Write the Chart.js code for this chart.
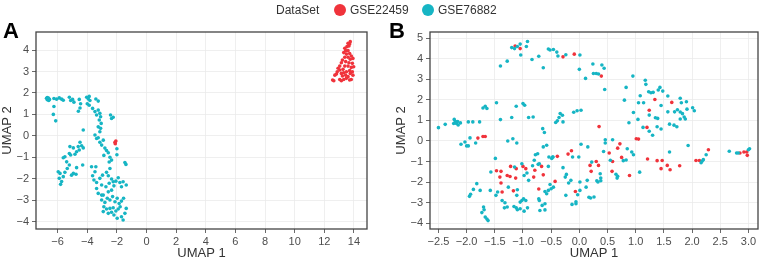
<!DOCTYPE html>
<html><head><meta charset="utf-8">
<script src="https://cdn.jsdelivr.net/npm/chart.js@4/dist/chart.umd.min.js"></script>
<style>
html,body{margin:0;padding:0;background:#fff;}
body{width:761px;height:261px;position:relative;overflow:hidden;font-family:"Liberation Sans",Arial,sans-serif;color:#333;}
#ca{position:absolute;left:0;top:0;}
#cb{position:absolute;left:380px;top:0;}
.lab{position:absolute;font-weight:bold;font-size:22px;color:#000;}
.leg{position:absolute;top:3px;font-size:12px;color:#333;line-height:15px;}
.dot{position:absolute;width:12px;height:12px;border-radius:50%;top:4px;}
</style></head><body>
<canvas id="ca" width="380" height="261"></canvas>
<canvas id="cb" width="381" height="261"></canvas>
<div class="lab" style="left:3px;top:18px;">A</div>
<div class="lab" style="left:389px;top:18px;">B</div>
<div class="leg" style="left:276px;">DataSet</div>
<div class="dot" style="left:334px;background:#F0333B;"></div>
<div class="leg" style="left:350px;">GSE22459</div>
<div class="dot" style="left:422px;background:#16B5C4;"></div>
<div class="leg" style="left:438px;">GSE76882</div>
<script>
const seriesNames = ["GSE22459", "GSE76882"];
const xTicksA = [-6,-4,-2,0,2,4,6,8,10,12,14];
const yTicksA = [-4,-3,-2,-1,0,1,2,3,4];
const xTicksB = [-2.5,-2.0,-1.5,-1.0,-0.5,0.0,0.5,1.0,1.5,2.0,2.5,3.0];
const yTicksB = [-4,-3,-2,-1,0,1,2,3,4,5];

const panelA_GSE22459 = [
[-2.13,-0.3],[-2.07,-0.24],[-2.11,-0.37],
[13.75,4.39],[13.71,4.28],[13.66,4.19],[13.6,4.31],[13.53,4.16],[13.38,4.08],[13.44,3.97],[13.6,3.97],
[13.31,3.88],[13.49,3.81],[13.71,3.84],[13.82,3.72],[13.93,3.61],[13.75,3.57],[13.6,3.66],[13.38,3.66],
[13.22,3.53],[13.15,3.41],[13.44,3.46],[13.66,3.41],[13.89,3.38],[13.98,3.22],[13.82,3.19],[13.6,3.25],
[13.38,3.25],[13.04,3.25],[12.93,3.15],[12.87,2.99],[13.04,3.07],[13.26,3.1],[13.31,2.94],[13.49,2.99],
[13.71,3.04],[13.89,2.99],[12.71,2.83],[12.82,2.88],[13.15,2.91],[13.22,2.79],[13.44,2.83],[13.6,2.76],
[13.75,2.91],[13.93,2.83],[12.56,2.6],[12.64,2.57],[13.04,2.63],[13.15,2.57],[13.31,2.63],[13.49,2.68],
[13.71,2.6],[13.82,2.63]
];
const panelA_GSE76882 = [
[-6.75,1.75],[-6.7,1.68],[-6.65,1.72],[-6.6,1.65],[-6.55,1.7],[-6.7,1.78],[-6.62,1.76],
[-6.25,1.74],[-6.07,1.71],[-5.89,1.77],[-5.73,1.71],[-5.62,1.66],
[-6.25,1.37],[-6.29,1.0],[-6.13,0.7],
[-5.21,1.8],[-5.12,1.65],[-4.99,1.7],[-4.9,1.57],
[-4.54,1.7],[-4.45,1.5],[-4.49,1.3],[-4.6,1.15],
[-4.04,1.8],[-3.93,1.72],[-3.87,1.84],[-3.82,1.65],[-4.0,1.5],[-3.87,1.43],
[-3.42,1.72],[-3.26,1.62],
[-3.64,1.28],[-3.48,1.13],[-3.37,0.97],[-3.26,1.2],[-3.15,1.05],[-3.1,0.89],[-3.19,0.74],[-3.06,0.58],
[-3.26,0.42],[-3.1,0.35],[-3.15,0.19],
[-2.43,0.97],[-2.36,0.81],[-2.25,0.87],
[-4.27,0.27],
[-3.48,0.04],[-3.37,-0.12],[-3.26,-0.09],
[-3.15,-0.3],[-3.03,-0.43],[-2.92,-0.2],
[-2.81,-0.57],[-2.7,-0.68],[-2.58,-0.79],[-2.88,-0.91],
[-2.47,-1.0],[-2.36,-1.13],[-2.52,-1.22],
[-2.0,-0.6],[-2.0,-0.88],
[-1.46,-1.24],[-1.39,-1.33],
[-4.49,-0.3],[-4.38,-0.46],[-4.61,-0.5],[-4.27,-0.56],[-4.54,-0.66],[-4.72,-0.74],[-4.83,-0.86],
[-4.94,-0.56],[-5.17,-0.5],[-5.21,-0.82],[-5.12,-0.89],[-5.51,-0.97],[-5.62,-1.02],[-5.39,-1.21],
[-5.21,-1.36],[-5.35,-1.52],[-5.51,-1.7],[-5.62,-1.9],[-5.84,-1.75],[-5.89,-1.98],[-5.73,-2.13],
[-5.8,-2.26],[-5.96,-1.67],[-4.94,-1.75],[-4.76,-1.79],[-5.06,-1.83],[-4.72,-1.48],[-4.31,-1.36],
[-3.71,-1.44],[-3.42,-1.44],[-3.48,-1.67],[-3.64,-1.86],[-3.55,-2.06],[-3.37,-2.17],[-3.15,-1.98],
[-2.97,-1.83],[-2.7,-1.7],[-2.47,-1.52],[-2.58,-1.86],[-2.36,-2.01],[-2.25,-2.14],[-2.52,-2.21],
[-2.74,-2.37],[-3.03,-2.29],[-3.37,-2.45],[-3.26,-2.68],[-2.92,-2.76],[-2.58,-2.61],[-2.36,-2.53],
[-2.2,-2.33],[-2.07,-2.11],[-1.91,-1.95],[-1.8,-2.17],[-1.69,-2.37],[-1.58,-2.14],[-1.37,-2.29],
[-3.03,-2.99],[-2.81,-3.1],[-2.65,-2.91],[-2.47,-2.99],[-2.29,-2.83],[-2.13,-3.07],[-1.98,-2.91],
[-1.85,-3.15],[-1.69,-3.04],[-2.88,-3.3],[-2.7,-3.41],[-2.47,-3.38],[-2.25,-3.35],[-2.07,-3.5],
[-1.91,-3.41],[-1.78,-3.3],[-2.36,-3.56],[-2.2,-3.69],[-1.98,-3.84],[-1.69,-3.77],[-1.58,-3.92],
[-1.46,-3.61],[-1.37,-3.38],[-1.55,-2.91],[-2.92,-3.53],[-2.58,-3.61],[-3.03,-2.76]
];
const panelB_GSE22459 = [
[-1.14,4.63],[-1.05,4.5],[-0.29,4.1],[-0.09,4.23],[0.39,3.16],[1.34,2.02],[1.64,1.88],[1.24,1.5],
[0.35,0.7],[1.2,0.66],[-1.8,0.14],[-1.71,0.22],[-1.67,0.22],
[-1.47,-1.45],[-1.39,-1.48],[-1.41,-1.76],[-1.39,-2.05],[-1.37,-2.49],[-1.22,-1.24],[-1.12,-1.35],
[-1.28,-1.68],[-1.23,-1.73],[-1.13,-1.81],[-1.17,-2.43],[-1.0,-1.24],[-0.95,-1.35],[-0.79,-1.43],
[-0.81,-1.76],[-0.64,-1.65],[-0.72,-2.34],[-0.67,-1.24],[-0.43,-1.97],[-0.39,-0.75],[-0.2,-0.64],
[-0.14,-0.48],[-0.07,-2.46],[0.21,-1.48],[0.19,-1.19],
[1.01,0.11],[1.05,0.09],[0.72,-0.14],[0.68,-0.35],[0.53,-0.59],[0.75,-0.8],[0.59,-1.0],[0.3,-1.0],
[0.34,-1.19],[0.58,-1.48],[0.89,-1.68],[1.21,-0.88],[1.38,-0.96],[1.47,-0.95],[1.45,-1.35],[1.56,-1.19],
[1.61,-1.4],[1.78,-1.21],[2.07,-0.95],[2.13,-0.95],[2.29,-0.43],[2.85,-0.59],[2.92,-0.54],[2.98,-0.7],[2.97,-0.54]
];
const panelB_GSE76882 = [
[-1.1,4.6],[-1.15,4.5],[-1.05,4.72],[-1.2,4.55],[-0.92,4.85],[-0.94,4.6],[-1.04,4.19],[-1.28,3.89],
[-1.4,3.65],[-0.84,3.97],[-0.72,4.13],[-0.64,3.57],[-0.55,4.48],[-0.52,4.43],[-0.46,4.46],[-0.4,4.33],
[-0.38,4.14],[-0.24,4.2],[0.01,4.19],[0,3.49],[0.24,3.75],[0.25,3.29],[0.3,3.29],[0.34,3.26],[0.4,3.7],
[0.44,3.54],[0.11,3.05],[0.45,2.51],
[0.95,3.16],[1.17,2.96],[1.18,2.76],[0.83,2.61],[0.8,1.99],[1.08,2.2],[1.23,2.4],[1.27,2.35],[1.31,2.37],
[1.4,2.48],[1.43,2.61],[1.48,2.43],[1.57,2.19],[1.79,2.08],[1.9,1.91],[1.81,1.86],[2.01,1.62],[2.04,1.47],
[1.91,1.55],[1.05,1.86],[1.14,1.86],[0.96,1.39],[1.57,1.42],[1.69,1.42],[1.74,1.52],[1.79,1.41],[1.83,1.33],
[1.86,1.17],[1.88,1.07],[1.79,1.07],[1.24,1.26],[1.35,1.13],[1.39,1.1],[1.04,1.05],[0.88,0.89],[1.13,0.66],
[1.6,0.82],[1.68,0.77],[1.73,0.69],[1.38,0.69],[1.45,0.58],[1.45,1.73],[1.3,0.28],[1.24,0.47],
[-2.5,0.65],[-2.38,0.81],[-2.22,1.05],[-2.2,0.95],[-2.18,0.85],[-2.16,0.95],[-2.15,0.78],[-2.23,0.85],
[-2.19,0.9],[-2.11,0.88],[-1.97,0.93],[-1.89,0.93],[-1.77,0.93],[-1.71,1.61],[-1.67,1.69],[-1.64,1.58],
[-1.47,1.86],[-1.4,1.04],[-1.2,1.14],[-1.12,1.69],[-1.0,1.82],[-0.97,1.74],[-0.9,1.14],[-0.82,1.17],
[-0.65,0.6],[-0.62,0.41],[-0.42,0.9],[-0.39,0.98],[-0.36,1.14],[-0.34,1.34],[-0.3,1.25],[-0.29,0.93],
[-0.1,1.4],[-0.04,1.47],[0.03,1.5],
[-2.1,-0.16],[-2.03,-0.05],[-2.0,-0.24],[-1.97,-0.24],[-1.94,0.15],[-1.84,-0.1],[-1.27,0],[-1.18,0.11],
[-1.11,-0.1],[-1.49,-0.85],
[-1.95,-2.7],[-1.93,-2.6],[-1.88,-2.36],[-1.82,-2.08],[-1.76,-2.41],[-1.73,-3.49],[-1.7,-3.22],[-1.69,-3.35],
[-1.67,-3.71],[-1.64,-3.8],[-1.62,-3.88],[-1.58,-2.41],[-1.57,-1.51],[-1.48,-2.65],[-1.45,-2.49],[-1.32,-3.01],
[-1.37,-2.9],[-1.33,-3.26],[-1.28,-3.22],[-1.26,-2.25],[-1.16,-3.19],[-1.12,-3.26],[-1.1,-3.35],[-1.05,-3.3],
[-1.15,-1.27],[-1.11,-2.65],[-1.1,-2.38],[-1.02,-1.11],[-0.98,-1.68],[-0.93,-1.56],[-0.9,-1.92],[-1.05,-2.98],
[-1.02,-2.9],[-0.99,-2.82],[-0.95,-2.9],[-0.83,-1.21],[-0.8,-0.94],[-0.73,-1.14],[-0.71,-1.11],[-0.71,-2.9],
[-0.7,-3.39],[-0.61,-2.46],[-0.98,-3.42],[-0.92,-3.26],[-0.72,-2.82],[-0.66,-3.14],[-0.61,-3.06],[-0.61,-3.36],
[-0.58,-2.57],[-0.55,-2.41],[-0.52,-2.12],[-0.5,-2.33],[-0.46,-2.25],[-0.55,-1.24],[-0.47,-0.78],[-0.29,-1.3],
[-0.25,-1.76],[-0.23,-1.63],[-0.24,-2.65],[-0.19,-2.05],[-0.15,-1.92],[-0.13,-3.09],[-0.03,-2.62],[-0.06,-2.96],
[-0.06,-3.06],[0.01,-2.41],[0.01,-2.0],
[-0.78,-0.67],[-0.74,-0.62],[-0.64,-0.29],[-0.58,-0.21],[-0.54,-0.78],[-0.49,-0.85],[-0.47,-0.78],[-0.12,-0.78],
[-0.01,-0.78],[0.03,-0.16],[0.15,-0.29],[0.22,-1.03],[0.37,-1.6],[0.38,-1.81],[0.38,-1.94],[0.31,-1.94],[0.33,-2.0],
[0.14,-1.92],[0.12,-2.25],[0.2,-2.78],[0.26,-2.73],[0.17,-2.74],
[0.43,-0.51],[0.46,0.06],[0.46,-0.1],[0.59,0.06],[0.55,-0.94],[0.65,-1.62],[0.68,-1.72],[0.67,-1.81],
[0.78,-0.96],[0.83,-0.93],[0.85,-0.38],[0.93,-0.54],[0.96,-0.67],[1.07,-1.52],
[1.6,-0.54],[1.93,-0.22],[2.16,-1.06],[2.18,-0.98],[2.2,-0.91],[2.25,-0.67],[2.66,-0.5],[2.79,-0.59],
[2.82,-0.59],[3.0,-0.43],[3.02,-0.38]
];

const RED = '#F0333B', CYAN = '#16B5C4';
const FONT = '"Liberation Sans", Arial, sans-serif';
Chart.defaults.font.family = FONT;
Chart.defaults.color = '#333';

const framePlugin = {
  id: 'frame',
  afterDatasetsDraw(chart) {
    const a = chart.chartArea, c = chart.ctx;
    c.save(); c.strokeStyle = '#444'; c.lineWidth = 1.3;
    c.strokeRect(a.left, a.top, a.right - a.left, a.bottom - a.top);
    c.restore();
  }
};
const fmt = v => String(v).replace('-', '\u2212');
function toPts(arr){ return arr.map(p => ({x: p[0], y: p[1]})); }

function makeChart(id, red, cyan, xr, yr, xt, yt, xDec, yAxisW, padL, padR) {
  return new Chart(document.getElementById(id), {
    type: 'scatter',
    data: { datasets: [
      { label: seriesNames[1], data: toPts(cyan), backgroundColor: CYAN, pointRadius: 1.8, borderWidth: 0, pointHoverRadius: 1.8 },
      { label: seriesNames[0], data: toPts(red), backgroundColor: RED, pointRadius: 1.8, borderWidth: 0, pointHoverRadius: 1.8 }
    ]},
    options: {
      responsive: false, animation: false, events: [],
      layout: { padding: { left: padL, right: padR, top: 32, bottom: 0 } },
      plugins: { legend: { display: false }, tooltip: { enabled: false } },
      scales: {
        x: {
          type: 'linear', min: xr[0], max: xr[1],
          afterBuildTicks: s => { s.ticks = xt.map(v => ({ value: v })); },
          afterFit: s => { s.height = 32; },
          grid: { color: '#EBEBEB', lineWidth: 0.8, tickColor: '#444', tickLength: 4, drawTicks: true },
          border: { display: false },
          ticks: { color: '#4D4D4D', font: { size: 11 }, padding: 2, maxRotation: 0, autoSkip: false,
                   callback: v => fmt(xDec ? Number(v).toFixed(1) : v) },
          title: { display: true, text: 'UMAP 1', color: '#333', font: { size: 13 }, padding: { top: 0, bottom: 0 } }
        },
        y: {
          type: 'linear', min: yr[0], max: yr[1],
          afterBuildTicks: s => { s.ticks = yt.map(v => ({ value: v })); },
          afterFit: s => { s.width = yAxisW; },
          grid: { color: '#EBEBEB', lineWidth: 0.8, tickColor: '#444', tickLength: 4, drawTicks: true },
          border: { display: false },
          ticks: { color: '#4D4D4D', font: { size: 11 }, padding: 3, autoSkip: false, callback: v => fmt(v) },
          title: { display: true, text: 'UMAP 2', color: '#333', font: { size: 13 }, padding: { top: 0, bottom: 2 } }
        }
      }
    },
    plugins: [framePlugin]
  });
}

makeChart('ca', panelA_GSE22459, panelA_GSE76882, [-7.46, 14.88], [-4.34, 4.84], xTicksA, yTicksA, false, 36, 0, 13);
makeChart('cb', panelB_GSE22459, panelB_GSE76882, [-2.65, 3.17], [-4.29, 5.31], xTicksB, yTicksB, true, 36, 14, 3);
</script>
</body></html>
